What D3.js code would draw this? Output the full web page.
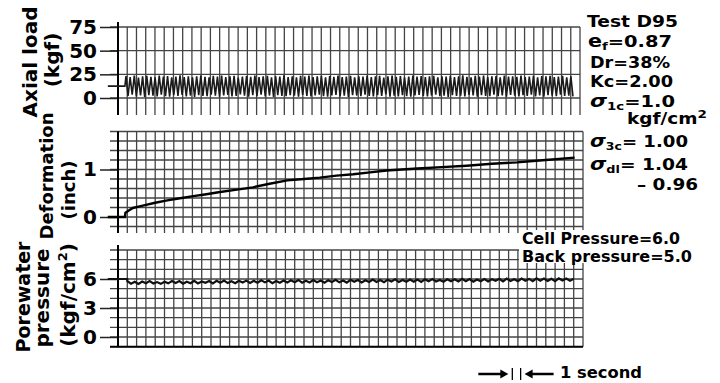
<!DOCTYPE html>
<html>
<head>
<meta charset="utf-8">
<script src="https://cdn.jsdelivr.net/npm/d3@7"></script>
<style>
  html, body { margin: 0; padding: 0; background: #fff; }
  svg { display: block; }
  text { font-family: "DejaVu Sans", sans-serif; font-weight: bold; fill: #000; }
</style>
</head>
<body>
<svg id="chart" width="720" height="383"></svg>
<script>
// ---- Test D95 record: time in seconds ----

// Axial load (kgf): seating load before cycling, then one peak/trough per cycle
const axialSeatLoad = 12.5;
const axialCycleStart = 0.75;   // s
const axialPeriod = 0.45;       // s
const axialPeaks = [
  23.2, 22.1, 23.8, 21.6, 22.9, 23.5, 22.3, 21.9, 23.7, 22.6, 23.1, 21.8,
  22.7, 23.9, 22.2, 23.0, 21.7, 22.8, 23.6, 22.4, 21.9, 23.3, 22.5, 23.8,
  22.0, 22.9, 23.4, 21.6, 22.7, 23.2, 22.3, 23.7, 22.1, 22.8, 23.5, 21.8,
  23.0, 22.6, 23.9, 22.2, 22.9, 21.7, 23.3, 22.5, 23.6, 22.0, 22.8, 23.4,
  21.9, 23.1, 22.4, 23.8, 22.2, 22.7, 23.5, 21.8, 23.0, 22.6, 23.7, 22.1,
  22.9, 23.3, 21.6, 22.8, 23.6, 22.3, 23.1, 21.9, 22.7, 23.8, 22.5, 23.2,
  22.0, 22.9, 23.4, 21.7, 23.0, 22.6, 23.5, 22.2, 22.8, 23.9, 22.4, 21.8,
  23.3, 22.6, 23.7, 22.1, 22.9, 23.2, 21.9, 23.6, 22.5, 23.0, 22.3, 23.8,
  22.2, 22.7, 23.4, 21.7, 23.1, 22.8, 23.5, 22.0, 22.6, 23.3, 21.9, 22.9
];
const axialTroughs = [
  2.1, 3.4, 1.6, 2.8, 1.2, 3.1, 2.4, 1.8, 3.6, 2.0, 1.4, 2.9,
  2.2, 3.3, 1.7, 2.6, 1.1, 3.0, 2.3, 1.9, 3.5, 2.5, 1.3, 2.7,
  3.2, 1.8, 2.1, 3.8, 2.4, 1.5, 2.9, 2.0, 3.4, 1.6, 2.6, 1.2,
  3.1, 2.2, 1.9, 3.0, 2.5, 1.4, 3.3, 2.1, 1.7, 2.8, 3.6, 2.0,
  1.5, 2.7, 3.2, 1.8, 2.4, 1.1, 3.0, 2.6, 1.9, 3.4, 2.2, 1.6,
  2.9, 2.3, 3.7, 1.5, 2.5, 1.8, 3.1, 2.0, 1.3, 2.8, 3.3, 2.1,
  1.7, 2.6, 3.5, 1.9, 2.4, 1.2, 3.0, 2.2, 2.5, 1.6, 3.2, 2.7,
  1.4, 3.1, 2.3, 1.9, 3.6, 2.0, 2.8, 1.5, 3.3, 2.4, 1.8, 2.9,
  2.2, 3.5, 1.6, 2.7, 1.3, 3.0, 2.5, 1.9, 3.4, 2.1, 2.6, 1.7
];

// Deformation (inch)
const deformTime = [-1.1, 0.75, 0.8, 1.2, 1.6, 2.2, 2.9, 4.0, 5.3, 6.5, 8.1, 9.5, 10.8,
  12.6, 14.5, 16.3, 18.2, 20.0, 21.7, 23.5, 25.3, 27.1, 28.9, 30.5, 32.2, 34.8, 37.5,
  40.2, 42.9, 46.0, 49.1];
const deformValue = [0, 0, 0.09, 0.14, 0.19, 0.22, 0.25, 0.30, 0.35, 0.39, 0.44, 0.48, 0.52,
  0.57, 0.625, 0.70, 0.77, 0.80, 0.83, 0.87, 0.90, 0.94, 0.98, 1.00, 1.02, 1.05, 1.08,
  1.12, 1.15, 1.20, 1.25];

// Porewater pressure (kgf/cm²): initial value, then readings every 0.4 s from 1.0 s
const poreInitial = 6.0;
const poreStart = 1.0;
const poreStep = 0.4;
const porePressure = [
  5.77, 5.51, 5.71, 5.48, 5.74, 5.57, 5.78, 5.53, 5.68, 5.50, 5.72,
  5.55, 5.79, 5.59, 5.78, 5.52, 5.72, 5.57, 5.81, 5.54, 5.74, 5.61,
  5.79, 5.55, 5.82, 5.61, 5.84, 5.58, 5.76, 5.56, 5.81, 5.63, 5.83,
  5.59, 5.81, 5.62, 5.86, 5.65, 5.84, 5.57, 5.80, 5.61, 5.85, 5.63,
  5.87, 5.67, 5.90, 5.62, 5.81, 5.64, 5.89, 5.66, 5.85, 5.61, 5.86,
  5.68, 5.92, 5.66, 5.85, 5.63, 5.91, 5.72, 5.89, 5.65, 5.87, 5.70,
  5.94, 5.70, 5.90, 5.67, 5.93, 5.74, 5.96, 5.69, 5.89, 5.71, 5.95,
  5.72, 5.94, 5.70, 5.97, 5.76, 5.99, 5.73, 5.90, 5.71, 5.96, 5.77,
  5.98, 5.74, 6.01, 5.78, 5.99, 5.72, 5.95, 5.77, 6.00, 5.75, 5.97,
  5.81, 6.02, 5.76, 6.05, 5.79, 5.98, 5.77, 6.04, 5.83, 6.01, 5.78,
  6.07, 5.83, 6.05, 5.80, 6.02, 5.78, 6.06, 5.85, 6.04, 5.81, 6.03
];

// Tick labels and grid divisions
const axialTicks = [0, 25, 50, 75];
const deformTicks = [0, 1];
const poreTicks = [0, 3, 6];
const axialGridValues = [0, 25, 50, 75];
const deformGridValues = [-0.2, 0, 0.2, 0.4, 0.6, 0.8, 1.0, 1.2, 1.4, 1.6, 1.8];
const poreGridValues = [-1, 0, 1, 2, 3, 4, 5, 6, 7, 8, 9];
const seconds = d3.range(0, 51);

// ---- drawing ----
const svg = d3.select("#chart");
const gridColor = "#444";

const xTop = d3.scaleLinear().domain([0, 50]).range([118, 580]);
const xMid = d3.scaleLinear().domain([0, 50]).range([118, 583]);
const xBot = d3.scaleLinear().domain([0, 50]).range([118, 583]);

const yTop = d3.scaleLinear().domain([0, 75]).range([98, 27]);
const yMid = d3.scaleLinear().domain([0, 1]).range([217, 169.5]);
const yBot = d3.scaleLinear().domain([0, 6]).range([337, 279]);

function grid(g, x, y, hVals, vTop, vBottom, hLeft) {
  g.selectAll("line.h").data(hVals).join("line").attr("class", "h")
    .attr("x1", hLeft).attr("x2", x.range()[1])
    .attr("y1", d => y(d)).attr("y2", d => y(d))
    .attr("stroke", gridColor).attr("stroke-width", 1.3);
  g.selectAll("line.v").data(seconds.slice(1)).join("line").attr("class", "v")
    .attr("x1", d => x(d)).attr("x2", d => x(d))
    .attr("y1", vTop).attr("y2", vBottom)
    .attr("stroke", gridColor).attr("stroke-width", 1.3);
}

function leftAxis(y, ticks, top, bottom) {
  const g = svg.append("g").attr("transform", "translate(118,0)")
    .call(d3.axisLeft(y).tickValues(ticks).tickSize(18).tickPadding(3).tickFormat(d3.format("d")));
  g.select(".domain").remove();
  g.selectAll(".tick line").attr("stroke", "#222").attr("stroke-width", 1.5);
  g.selectAll(".tick text").attr("font-size", 20).attr("font-family", "DejaVu Sans")
    .attr("font-weight", "bold").attr("fill", "#000");
  svg.append("line").attr("x1", 118).attr("x2", 118).attr("y1", top).attr("y2", bottom)
    .attr("stroke", "#000").attr("stroke-width", 2);
}

// Panel 1: axial load
const gTop = svg.append("g");
grid(gTop, xTop, yTop, axialGridValues, yTop(75), 115, 110);
leftAxis(yTop, axialTicks, 22, 115);

const axialPts = [[-1.1, axialSeatLoad], [axialCycleStart, axialSeatLoad]];
axialPeaks.forEach((p, i) => {
  const t0 = axialCycleStart + i * axialPeriod;
  axialPts.push([t0 + axialPeriod * 0.25, p]);
  axialPts.push([t0 + axialPeriod * 0.75, axialTroughs[i]]);
});
svg.append("path").datum(axialPts)
  .attr("d", d3.line().x(d => xTop(d[0])).y(d => yTop(d[1])))
  .attr("fill", "none").attr("stroke", "#1a1a1a").attr("stroke-width", 1.6);

// Panel 2: deformation
const gMid = svg.append("g");
grid(gMid, xMid, yMid, deformGridValues, yMid(1.8), 233, 110);
leftAxis(yMid, deformTicks, yMid(1.8), 233);
svg.append("path").datum(deformTime.map((t, i) => [t, deformValue[i]]))
  .attr("d", d3.line().x(d => xMid(d[0])).y(d => yMid(d[1])))
  .attr("fill", "none").attr("stroke", "#000").attr("stroke-width", 2.4);

// Panel 3: porewater pressure
const gBot = svg.append("g");
grid(gBot, xBot, yBot, poreGridValues, yBot(9), yBot(-1), 110);
leftAxis(yBot, poreTicks, 245, yBot(-1));
svg.append("line").attr("x1", 110).attr("x2", 583).attr("y1", yBot(-1)).attr("y2", yBot(-1))
  .attr("stroke", "#000").attr("stroke-width", 2);
const porePts = [[-1.1, poreInitial], [poreStart, poreInitial]]
  .concat(porePressure.map((v, i) => [poreStart + i * poreStep, v]));
svg.append("path").datum(porePts)
  .attr("d", d3.line().x(d => xBot(d[0])).y(d => yBot(d[1])))
  .attr("fill", "none").attr("stroke", "#111").attr("stroke-width", 2.2);

// Axis titles
function vtitle(x, y, size, parts) {
  const t = svg.append("text").attr("transform", `translate(${x},${y}) rotate(-90)`)
    .attr("text-anchor", "middle").attr("font-size", size);
  parts.forEach(p => {
    const s = t.append("tspan").text(p.text);
    if (p.sup) s.attr("font-size", size * 0.65).attr("dy", -size * 0.4);
    if (p.after) s.attr("dy", size * 0.4);
  });
}
vtitle(37, 62, 20, [{ text: "Axial load" }]);
vtitle(59, 60, 20, [{ text: "(kgf)" }]);
vtitle(53, 176, 18, [{ text: "Deformation" }]);
vtitle(75, 190, 18, [{ text: "(inch)" }]);
vtitle(30, 297, 19, [{ text: "Porewater" }]);
vtitle(49, 298, 20, [{ text: "pressure" }]);
vtitle(75, 295, 20, [{ text: "(kgf/cm" }, { text: "2", sup: true }, { text: ")", after: true }]);

// Test conditions: each line stretched to its printed width
function label(x, y, width, parts) {
  const t = svg.append("text").attr("x", x).attr("y", y)
    .attr("textLength", width).attr("lengthAdjust", "spacingAndGlyphs");
  parts.forEach(p => {
    const s = t.append("tspan").text(p.text).attr("font-size", p.size);
    if (p.dy) s.attr("dy", p.dy);
    if (p.italic) s.attr("font-style", "italic");
  });
}
label(587, 27, 91, [{ text: "Test D95", size: 16 }]);
label(588, 47, 84, [{ text: "e", size: 17 }, { text: "f", size: 11, dy: 2.5 }, { text: "=0.87", size: 16, dy: -2.5 }]);
label(590, 68, 80, [{ text: "Dr=38%", size: 16 }]);
label(590, 87, 83, [{ text: "Kc=2.00", size: 16 }]);
label(590, 107, 85, [{ text: "σ", size: 18, italic: true }, { text: "1c", size: 11, dy: 2.5 }, { text: "=1.0", size: 16, dy: -2.5 }]);
label(627, 124, 80, [{ text: "kgf/cm", size: 15 }, { text: "2", size: 11, dy: -6 }]);
label(590, 147, 98, [{ text: "σ", size: 18, italic: true }, { text: "3c", size: 11, dy: 2.5 }, { text: "= 1.00", size: 16, dy: -2.5 }]);
label(590, 170, 98, [{ text: "σ", size: 18, italic: true }, { text: "dl", size: 11, dy: 2.5 }, { text: "= 1.04", size: 16, dy: -2.5 }]);
label(637, 190, 61, [{ text: "– 0.96", size: 16 }]);

svg.append("rect").attr("x", 519).attr("y", 230).attr("width", 200).attr("height", 33).attr("fill", "#fff");
label(522, 244, 158, [{ text: "Cell Pressure=6.0", size: 15 }]);
label(522, 262, 170, [{ text: "Back pressure=5.0", size: 15 }]);

// One-second scale marker
const scaleT0 = 42.4;
const mx0 = xBot(scaleT0), mx1 = xBot(scaleT0 + 1) - 1;
const my = 374;
[mx0, mx1].forEach(x => svg.append("line").attr("x1", x).attr("x2", x)
  .attr("y1", 368).attr("y2", 380).attr("stroke", "#000").attr("stroke-width", 1.3));
svg.append("line").attr("x1", mx0 - 34).attr("x2", mx0 - 9).attr("y1", my).attr("y2", my)
  .attr("stroke", "#000").attr("stroke-width", 2.5);
svg.append("path").attr("d", `M${mx0 - 4},${my} L${mx0 - 12},${my - 4.5} L${mx0 - 12},${my + 4.5} Z`).attr("fill", "#000");
svg.append("line").attr("x1", mx1 + 9).attr("x2", mx1 + 33).attr("y1", my).attr("y2", my)
  .attr("stroke", "#000").attr("stroke-width", 2.5);
svg.append("path").attr("d", `M${mx1 + 4},${my} L${mx1 + 12},${my - 4.5} L${mx1 + 12},${my + 4.5} Z`).attr("fill", "#000");
label(560, 378, 82, [{ text: "1 second", size: 16 }]);
</script>
</body>
</html>
